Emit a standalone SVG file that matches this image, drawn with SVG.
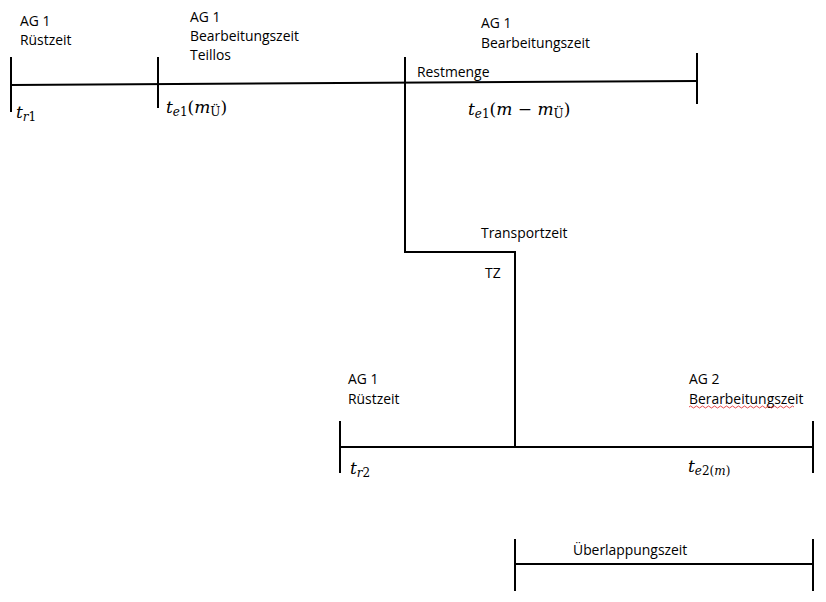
<svg xmlns="http://www.w3.org/2000/svg" width="826" height="602" viewBox="0 0 826 602">
<style>
.ln{stroke:#000;stroke-width:2;fill:none}
.lb{font-family:"Open Sans","Liberation Sans",sans-serif;font-size:13.9px;fill:#000}
.mt{font-family:"DejaVu Serif","Liberation Serif",serif;font-size:17px;fill:#000}
.it{font-style:italic}
.sb{font-size:12px}
</style>
<rect width="826" height="602" fill="#fff"/>
<g id="connectors">
<path class="ln" d="M11 85 L697 81"/>
<path class="ln" d="M11 57 V112"/>
<path class="ln" d="M158 57 V108"/>
<path class="ln" d="M697 53 V104"/>
<path class="ln" d="M405 57 V252 H515 V447"/>
<path class="ln" d="M340 447 H814"/>
<path class="ln" d="M340 421 V473"/>
<path class="ln" d="M813 421 V473"/>
<path class="ln" d="M515 564 H813"/>
<path class="ln" d="M515 539 V591"/>
<path class="ln" d="M813 539 V591"/>
</g>
<g id="node-ag1-ruest">
<text class="lb" x="20" y="26">AG 1</text>
<text class="lb" x="20" y="45">Rüstzeit</text>
<text class="mt" x="16" y="118"><tspan class="it">t</tspan><tspan class="sb it" dy="3">r</tspan><tspan class="sb">1</tspan></text>
</g>
<g id="node-ag1-teillos">
<text class="lb" x="190" y="22">AG 1</text>
<text class="lb" x="190" y="41">Bearbeitungszeit</text>
<text class="lb" x="190" y="60">Teillos</text>
<text class="mt" x="166" y="113"><tspan class="it">t</tspan><tspan class="sb it" dy="3">e</tspan><tspan class="sb">1</tspan><tspan dy="-3">(</tspan><tspan class="it">m</tspan><tspan class="sb" dy="3">Ü</tspan><tspan dy="-3">)</tspan></text>
</g>
<g id="node-ag1-rest">
<text class="lb" x="481" y="28">AG 1</text>
<text class="lb" x="481" y="48">Bearbeitungszeit</text>
<text class="lb" x="417" y="77">Restmenge</text>
<text class="mt" x="468" y="115"><tspan class="it">t</tspan><tspan class="sb it" dy="3">e</tspan><tspan class="sb">1</tspan><tspan dy="-3">(</tspan><tspan class="it">m</tspan><tspan> − </tspan><tspan class="it">m</tspan><tspan class="sb" dy="3">Ü</tspan><tspan dy="-3">)</tspan></text>
</g>
<g id="node-transport">
<text class="lb" x="481" y="238">Transportzeit</text>
<text class="lb" x="485" y="278">TZ</text>
</g>
<g id="node-ag1-ruest2">
<text class="lb" x="348" y="384">AG 1</text>
<text class="lb" x="348" y="404">Rüstzeit</text>
<text class="mt" x="350" y="474"><tspan class="it">t</tspan><tspan class="sb it" dy="3">r</tspan><tspan class="sb">2</tspan></text>
</g>
<g id="node-ag2">
<text class="lb" x="689" y="384">AG 2</text>
<text class="lb" x="689" y="404">Berarbeitungszeit</text>
<path d="M689 407 q1.5 -2 3 0 t3 0 t3 0 t3 0 t3 0 t3 0 t3 0 t3 0 t3 0 t3 0 t3 0 t3 0 t3 0 t3 0 t3 0 t3 0 t3 0 t3 0 t3 0 t3 0 t3 0 t3 0 t3 0 t3 0 t3 0 t3 0 t3 0 t3 0 t3 0 t3 0 t3 0 t3 0 t3 0 t3 0 t3 0" stroke="#e02020" stroke-width="0.8" fill="none"/>
<text class="mt" x="688" y="472"><tspan class="it">t</tspan><tspan class="sb" dy="3"><tspan class="it">e</tspan>2(<tspan class="it">m</tspan>)</tspan></text>
</g>
<g id="node-overlap">
<text class="lb" x="573" y="555">Überlappungszeit</text>
</g>
</svg>
